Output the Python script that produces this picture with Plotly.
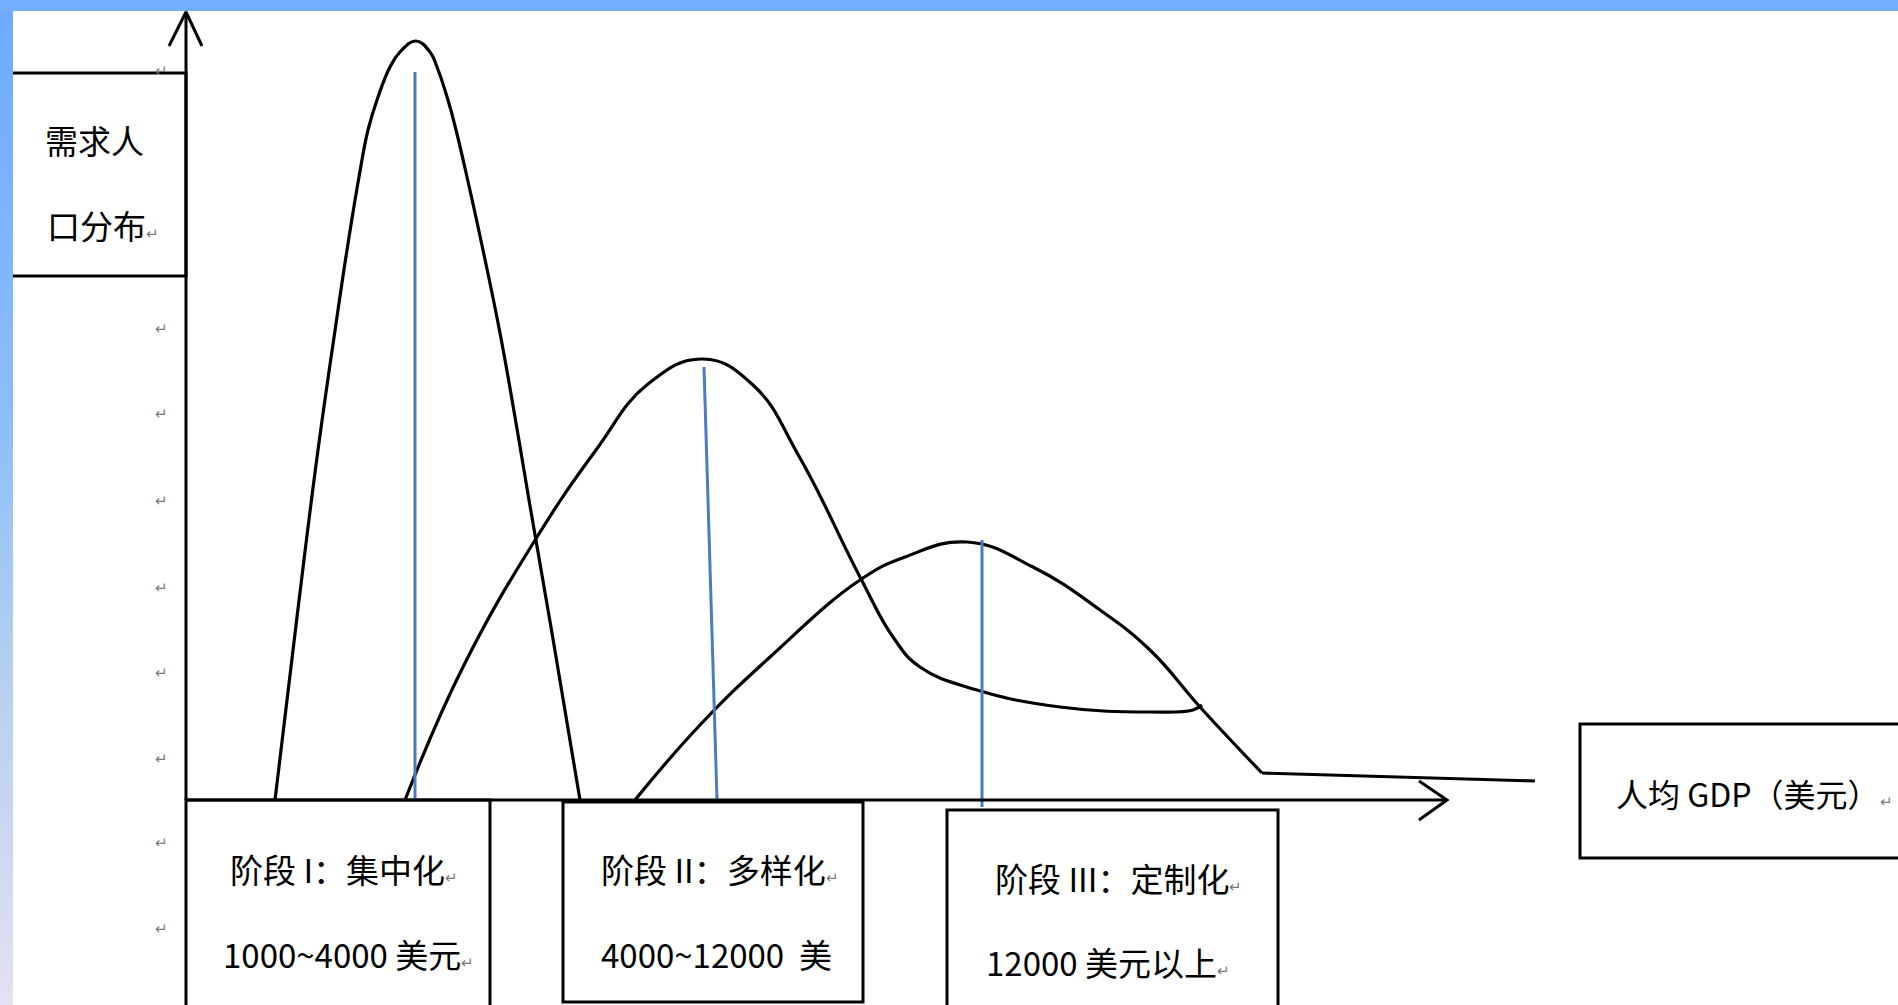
import plotly.graph_objects as go

# coordinates: x to the right of the demand axis, y above the GDP axis
curve1_x = [89, 111, 132, 151, 161, 173, 182, 191, 204, 214, 230, 244, 251, 262, 270, 281, 297, 314, 329, 343, 366, 394]
curve1_y = [0, 183, 350, 483, 550, 623, 670, 700, 733, 748, 759, 748, 733, 700, 670, 623, 550, 467, 383, 300, 167, 0]

curve2_x = [219, 277, 351, 410, 462, 517, 567, 614, 674, 707, 734, 791, 874, 964, 1007, 1016]
curve2_y = [0, 133, 263, 350, 416, 441, 415, 342, 223, 163, 133, 110, 93, 88, 90, 95]

curve3_x = [449, 514, 584, 674, 719, 781, 847, 914, 964, 1014, 1076]
curve3_y = [0, 75, 143, 220, 243, 258, 233, 190, 150, 93, 27]
tail3_x = [1076, 1214, 1349]
tail3_y = [27, 23, 19]

mean_x = [[229, 229], [518, 531], [796, 796]]
mean_y = [[728, 0], [433, 0], [260, -7]]

yaxis_x = [0, 0]
yaxis_y = [0, 788]
yarrow_x = [-17, 0, 16]
yarrow_y = [754, 788, 754]
xaxis_x = [0, 1261]
xaxis_y = [0, 0]
xarrow_x = [1233, 1261, 1233]
xarrow_y = [19, 0, -20]

# text boxes: x0, x1, y0, y1
boxes = [(-200, 0, 524, 727), (0, 304, -215, 0), (377, 677, -202, -2),
         (761, 1092, -215, -10), (1394, 1730, -58, 76)]

RET = "<span style='font-size:15px;color:#7a7a7a'>↵</span>"
labels = [
    (-143, 660, "需求人", 33),
    (-141, 575, "口分布" + RET, 33),
    (42, -69, "阶段 I：集中化" + RET, 33),
    (35, -154, "1000~4000 美元" + RET, 33),
    (413, -69, "阶段 II：多样化" + RET, 33),
    (413, -154, "4000~12000  美", 33),
    (807, -78, "阶段 III：定制化" + RET, 33),
    (798, -162, "12000 美元以上" + RET, 33),
    (1428, 7, "人均 GDP（美元）" + RET, 32),
]
ret_x = -25
ret_y = [731, 473, 388, 301, 214, 129, 43, -41, -127]

band_x = [-186, -173, -173, -186, -186]
band_y = [-205, -205, 800, 800, -205]

fig = go.Figure()

for bx0, bx1, by0, by1 in boxes:
    fig.add_shape(type="rect", x0=bx0, x1=bx1, y0=by0, y1=by1,
                  line=dict(color="black", width=3), fillcolor="white", layer="below")

for cx, cy in [(curve1_x, curve1_y), (curve2_x, curve2_y), (curve3_x, curve3_y)]:
    fig.add_trace(go.Scatter(x=cx, y=cy, mode="lines", line_shape="spline",
                             line=dict(color="black", width=3.2, smoothing=1.25)))
fig.add_trace(go.Scatter(x=tail3_x, y=tail3_y, mode="lines",
                         line=dict(color="black", width=3.2)))

for mx, my in zip(mean_x, mean_y):
    fig.add_trace(go.Scatter(x=mx, y=my, mode="lines",
                             line=dict(color="#4a7cc4", width=3)))

for ax, ay in [(yaxis_x, yaxis_y), (yarrow_x, yarrow_y), (xaxis_x, xaxis_y), (xarrow_x, xarrow_y)]:
    fig.add_trace(go.Scatter(x=ax, y=ay, mode="lines",
                             line=dict(color="black", width=3)))

# window frame: gradient strip on the left, solid strip on top
fig.add_trace(go.Scatter(x=band_x, y=band_y, mode="lines", fill="toself",
                         line=dict(width=0),
                         fillgradient=dict(type="vertical",
                                           colorscale=[[0, "#e4e1f2"], [0.3, "#b9d1ee"],
                                                       [0.6, "#8abdf9"], [1, "#70a9ff"]])))
fig.add_shape(type="rect", x0=-186, x1=1712, y0=789, y1=800,
              line=dict(width=0), fillcolor="#74afff", layer="above")

for tx, ty, txt, fs in labels:
    fig.add_annotation(x=tx, y=ty, text=txt, showarrow=False, xanchor="left", yanchor="middle",
                       font=dict(family="Noto Sans CJK SC", size=fs, color="black"))
for ry in ret_y:
    fig.add_annotation(x=ret_x, y=ry, text="↵", showarrow=False, xanchor="center", yanchor="middle",
                       font=dict(family="Noto Sans CJK SC", size=15, color="#7a7a7a"))

fig.update_layout(
    width=1898, height=1005,
    margin=dict(l=0, r=0, t=0, b=0),
    showlegend=False,
    paper_bgcolor="white", plot_bgcolor="white",
    xaxis=dict(range=[-186, 1712], visible=False, fixedrange=True),
    yaxis=dict(range=[-205, 800], visible=False, fixedrange=True),
)

fig.write_html("out.html", config={"displayModeBar": False},
               post_script="document.body.style.margin='0';document.body.style.overflow='hidden';")
